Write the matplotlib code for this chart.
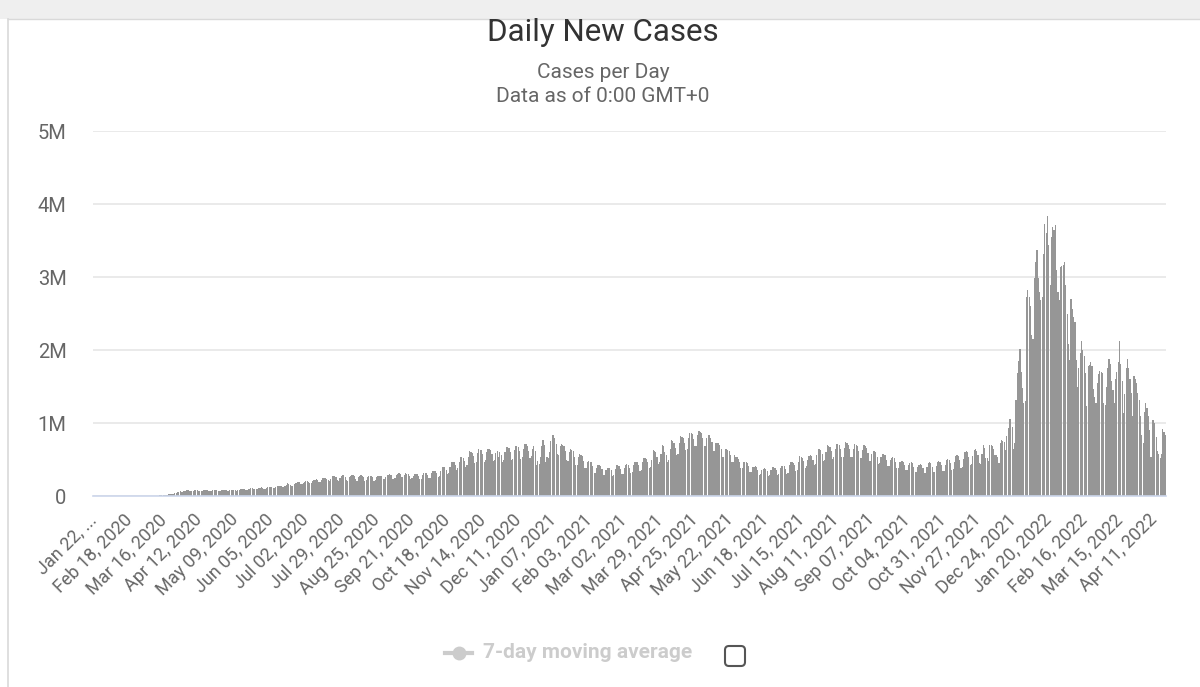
import numpy as np
import pandas as pd
import matplotlib
matplotlib.use("Agg")
import matplotlib.pyplot as plt
from matplotlib.patches import FancyBboxPatch, Rectangle
from matplotlib.lines import Line2D
from matplotlib.transforms import IdentityTransform

plt.rcParams['font.family'] = ['Roboto', 'DejaVu Sans']

start_date = "2020-01-22"

# daily new cases (thousands), 7 values per line
cases_2020 = [
    0.6, 0.1, 0.3, 0.7, 0.7, 0.8, 1.3,
    1.7, 1.7, 2.1, 2.1, 2.6, 2.8, 3.2,
    3.7, 3.2, 3.4, 2.7, 3.0, 2.5, 2.1,
    2.0, 6.5, 2.1, 2.6, 2.1, 2.0, 1.9,
    0.6, 1.0, 1.0, 1.0, 0.5, 0.6, 0.9,
    1.0, 1.3, 1.5, 1.9, 1.8, 2.1, 2.4,
    2.3, 2.7, 3.9, 4.0, 4.1, 4.0, 4.7,
    7.0, 8.5, 10.8, 10.9, 13.8, 15.9, 16.3,
    18, 22, 27, 30, 31, 34, 40,
    48, 56, 60, 62, 58, 60, 68,
    73, 76, 78, 74, 66, 68, 72,
    78, 80, 80, 74, 66, 64, 70,
    78, 80, 80, 76, 68, 66, 72,
    78, 80, 82, 78, 70, 66, 74,
    80, 84, 82, 80, 72, 72, 78,
    86, 88, 88, 82, 74, 76, 84,
    92, 96, 100, 94, 82, 84, 92,
    102, 105, 106, 100, 90, 90, 96,
    106, 114, 122, 116, 100, 102, 112,
    120, 128, 128, 126, 106, 104, 122,
    133, 136, 140, 138, 124, 120, 140,
    150, 174, 160, 145, 134, 140, 160,
    175, 182, 190, 186, 160, 162, 180,
    197, 205, 200, 190, 178, 172, 200,
    220, 225, 232, 215, 192, 196, 220,
    243, 250, 245, 236, 218, 212, 236,
    275, 280, 276, 260, 218, 212, 245,
    280, 285, 285, 262, 225, 210, 255,
    275, 282, 285, 268, 228, 210, 255,
    280, 288, 280, 256, 212, 214, 260,
    275, 278, 275, 258, 212, 222, 260,
    280, 278, 280, 268, 232, 228, 255,
    282, 289, 300, 290, 238, 230, 250,
    285, 300, 312, 305, 255, 255, 290,
    310, 305, 300, 280, 235, 240, 280,
    300, 300, 295, 275, 230, 235, 285,
    310, 315, 310, 290, 240, 250, 310,
    347, 345, 340, 315, 260, 275, 340,
    400, 400, 395, 360, 300, 320, 400,
    470, 465, 460, 420, 350, 380, 470,
    540, 535, 525, 480, 400, 420, 540,
    610, 605, 595, 545, 450, 470, 590,
    640, 635, 625, 570, 470, 490, 600,
    645, 640, 630, 580, 480, 500, 590,
    615, 540, 600, 560, 470, 490, 600,
    670, 665, 655, 600, 500, 510, 630,
    685, 680, 670, 610, 505, 530, 650,
    717, 710, 690, 620, 520, 545, 650,
    690, 620, 430, 480, 440, 540, 680,
    765, 700,
]

cases_2021 = [
    470, 540, 520, 600, 760,
    840, 830, 800, 710, 570, 560, 690,
    717, 700, 690, 610, 490, 480, 600,
    640, 630, 620, 540, 430, 430, 540,
    570, 560, 550, 480, 380, 380, 460,
    477, 470, 460, 410, 320, 320, 390,
    430, 420, 410, 370, 290, 290, 350,
    380, 390, 385, 350, 280, 290, 370,
    425, 420, 410, 370, 300, 300, 390,
    430, 440, 430, 390, 310, 330, 420,
    470, 470, 460, 420, 340, 360, 460,
    523, 520, 510, 460, 380, 400, 500,
    625, 610, 600, 540, 440, 460, 580,
    695, 680, 600, 560, 470, 500, 640,
    765, 750, 730, 660, 560, 580, 720,
    820, 810, 800, 730, 630, 650, 790,
    870, 860, 850, 780, 680, 690, 830,
    890, 880, 860, 790, 690, 680, 800,
    840, 830, 800, 740, 620, 610, 720,
    730, 720, 700, 640, 530, 530, 640,
    640, 630, 610, 560, 460, 460, 560,
    540, 530, 510, 470, 380, 380, 470,
    470, 460, 450, 410, 330, 330, 400,
    400, 410, 400, 360, 290, 300, 360,
    370, 380, 370, 340, 280, 290, 360,
    400, 400, 390, 360, 290, 300, 380,
    415, 410, 405, 370, 300, 310, 420,
    470, 465, 455, 420, 345, 360, 470,
    545, 530, 520, 480, 390, 410, 500,
    545, 560, 545, 500, 420, 440, 560,
    650, 640, 630, 580, 480, 490, 600,
    695, 680, 670, 620, 510, 530, 640,
    717, 710, 700, 640, 530, 540, 660,
    740, 720, 705, 640, 540, 540, 650,
    717, 700, 690, 620, 520, 520, 630,
    695, 680, 660, 590, 480, 480, 580,
    610, 620, 600, 540, 440, 450, 540,
    570, 580, 560, 500, 410, 410, 500,
    523, 530, 520, 470, 380, 380, 460,
    470, 480, 470, 420, 350, 350, 420,
    450, 460, 450, 400, 330, 330, 400,
    430, 440, 430, 385, 320, 320, 395,
    450, 460, 450, 400, 330, 335, 410,
    470, 480, 470, 420, 340, 345, 430,
    500, 510, 500, 450, 360, 365, 465,
    545, 560, 550, 490, 390, 400, 510,
    600, 610, 600, 540, 430, 435, 550,
    625, 640, 620, 560, 450, 440, 570,
    695, 660, 520, 520, 480, 700, 700,
    690, 640, 560, 560, 540, 450, 720,
    770, 750, 740, 630, 820, 930, 1050,
    1050, 950, 650, 720, 1320, 1690, 1850,
    2010, 1700, 1480,
]

cases_2022 = [
    1280, 1300, 2730, 2820,
    2730, 2600, 2200, 2150, 2980, 3200, 3370,
    2980, 2800, 2680, 2720, 3320, 3720, 3600,
    3830, 3440, 2890, 3550, 3690, 3650, 3710,
    3090, 2800, 2680, 3140, 3150, 3160, 3200,
    2890, 2500, 2080, 1870, 2700, 2560, 2450,
    2380, 1870, 1500, 1750, 1960, 2130, 2000,
    1920, 1690, 1230, 1780, 1800, 1830, 1780,
    1460, 1350, 1280, 1550, 1670, 1710, 1700,
    1690, 1280, 1250, 1500, 1760, 1880, 1810,
    1570, 1450, 1280, 1600, 1700, 1830, 2130,
    1810, 1570, 1140, 1400, 1760, 1880, 1760,
    1600, 1410, 1090, 1640, 1600, 1550, 1410,
    1320, 1100, 830, 720, 1150, 1280, 1210,
    1090, 900, 540, 1040, 1040, 1000, 810,
    620, 580, 520, 580, 920, 880, 840,
]

ytick_vals = [0, 1e6, 2e6, 3e6, 4e6, 5e6]
ytick_text = ["0", "1M", "2M", "3M", "4M", "5M"]

xtick_text = ["Jan 22, ...", "Feb 18, 2020", "Mar 16, 2020", "Apr 12, 2020",
              "May 09, 2020", "Jun 05, 2020", "Jul 02, 2020", "Jul 29, 2020",
              "Aug 25, 2020", "Sep 21, 2020", "Oct 18, 2020", "Nov 14, 2020",
              "Dec 11, 2020", "Jan 07, 2021", "Feb 03, 2021", "Mar 02, 2021",
              "Mar 29, 2021", "Apr 25, 2021", "May 22, 2021", "Jun 18, 2021",
              "Jul 15, 2021", "Aug 11, 2021", "Sep 07, 2021", "Oct 04, 2021",
              "Oct 31, 2021", "Nov 27, 2021", "Dec 24, 2021", "Jan 20, 2022",
              "Feb 16, 2022", "Mar 15, 2022", "Apr 11, 2022"]

cases = np.array(cases_2020 + cases_2021 + cases_2022) * 1000
days = pd.date_range(start_date, periods=len(cases))
x = np.arange(len(days))

fig = plt.figure(figsize=(12, 6.87), dpi=100)

# screenshot frame bits
fig.patches.append(Rectangle((0, 668), 1200, 19, transform=IdentityTransform(),
                             facecolor="#efefef", edgecolor="none"))
fig.add_artist(Line2D([8, 8], [0, 668], transform=IdentityTransform(),
                      color="#d9d9d9", lw=1.2))
fig.add_artist(Line2D([8, 1200], [668, 668], transform=IdentityTransform(),
                      color="#d9d9d9", lw=1))

ax = fig.add_axes([0.0775, 0.278, 0.8942, 0.5313])
ax.bar(x, cases, width=0.88, color="#969696", linewidth=0, zorder=2)

ax.set_xlim(-0.5, len(x) - 0.5)
ax.set_ylim(0, 5e6)
ax.set_yticks(ytick_vals)
ax.set_yticklabels(ytick_text)
ax.set_xticks(x[::27][:len(xtick_text)])
ax.set_xticklabels(xtick_text, rotation=45, ha="right", va="center",
                   rotation_mode="anchor")

ax.tick_params(axis="y", length=0, pad=19, labelsize=14.5, labelcolor="#666666")
ax.tick_params(axis="x", length=0, pad=15, labelsize=13, labelcolor="#666666")

ax.yaxis.grid(True, color="#e6e6e6", lw=1.2)
ax.set_axisbelow(True)
for s in ["top", "right", "left"]:
    ax.spines[s].set_visible(False)
ax.spines["bottom"].set_color("#ccd6eb")
ax.spines["bottom"].set_linewidth(1.2)
ax.spines["bottom"].set_zorder(3)

fig.text(0.5025, 0.953, "Daily New Cases", ha="center", va="center",
         fontsize=22.5, color="#333333")
fig.text(0.5025, 0.895, "Cases per Day", ha="center", va="center",
         fontsize=15, color="#666666")
fig.text(0.5025, 0.859, "Data as of 0:00 GMT+0", ha="center", va="center",
         fontsize=15, color="#666666")

# legend (series hidden)
fig.add_artist(Line2D([445, 472], [34, 34], transform=IdentityTransform(),
                      color="#cccccc", lw=3))
fig.add_artist(Line2D([458.5], [34], transform=IdentityTransform(),
                      color="#cccccc", marker="o", markersize=9, lw=0))
fig.text(483 / 1200, 34 / 687, "7-day moving average", ha="left", va="center",
         fontsize=15, fontweight="bold", color="#cccccc")
fig.patches.append(FancyBboxPatch((725, 21), 20, 20, transform=IdentityTransform(),
                                  boxstyle="round,pad=0,rounding_size=4",
                                  facecolor="white", edgecolor="#555555", lw=1.5))

fig.savefig("out.png", dpi=100, facecolor="white")
